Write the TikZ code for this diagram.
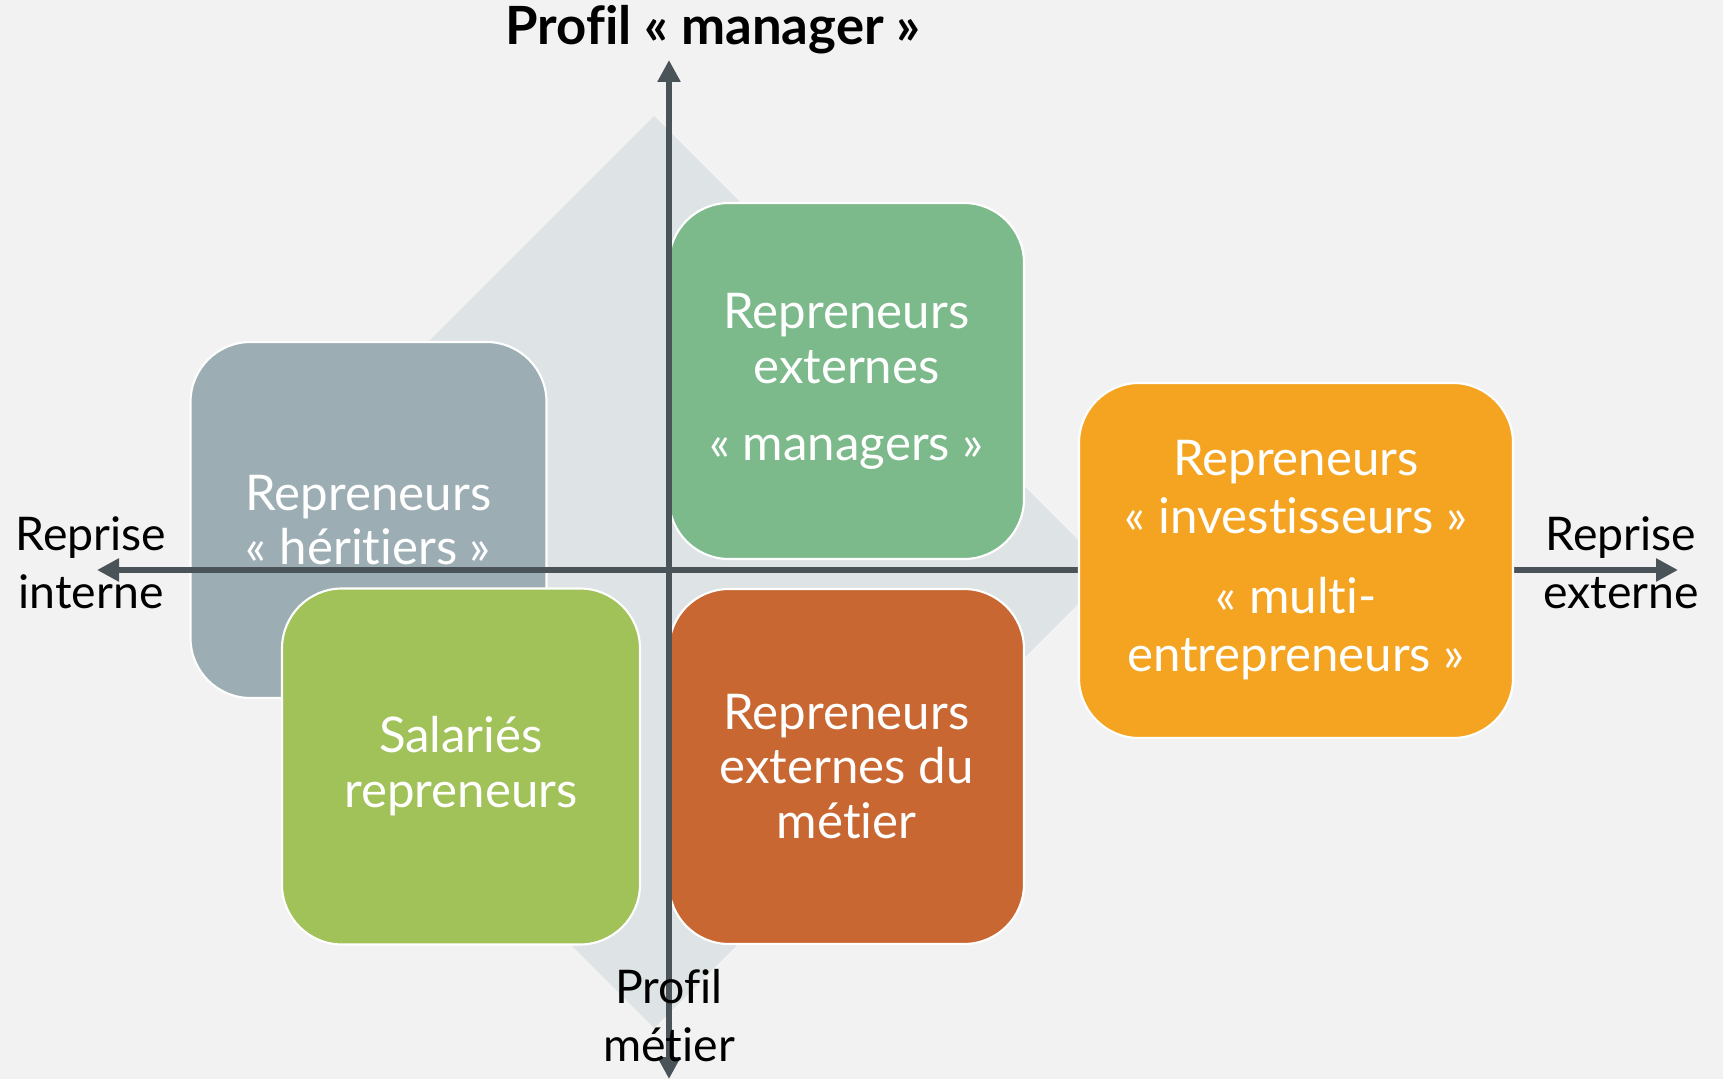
\documentclass[tikz,border=0pt]{standalone}
\usepackage{fontspec}
\setmainfont{Lato}[Ligatures=NoCommon]
\usetikzlibrary{arrows.meta}
\definecolor{bgcol}{HTML}{F2F2F2}
\definecolor{diamondcol}{HTML}{DEE3E5}
\definecolor{axiscol}{HTML}{4A5458}
\definecolor{heritcol}{HTML}{9CAEB3}
\definecolor{managcol}{HTML}{7CB98B}
\definecolor{salarcol}{HTML}{A1C159}
\definecolor{metiercol}{HTML}{C86731}
\definecolor{investcol}{HTML}{F5A422}
\begin{document}
\begin{tikzpicture}[box/.style = {draw=white, line width=0.6pt, rounded corners=6mm, minimum width=3.56cm, minimum height=3.56cm, align=center, text=white, font=\fontsize{14}{15.6}\selectfont, inner sep=0pt},
    lbl/.style = {align=center, font=\fontsize{13.2}{16.5}\selectfont},
    axis/.style = {draw=axiscol, line width=1.7pt, {Triangle[length=2.2mm,width=2.2mm]}-{Triangle[length=2.2mm,width=2.2mm]}}]
    \useasboundingbox (0,0) rectangle (17.23,10.79);
    \fill[bgcol] (0,0) rectangle (17.23,10.79);
    \fill[diamondcol] (6.54,9.63) -- (11.10,5.07) -- (6.54,0.51) -- (1.98,5.07) -- cycle;

    \node (herit) at (3.685,5.59) [box, fill=heritcol] {Repreneurs\\«~héritiers~»};
    \node (salar) at (4.61,3.125) [box, fill=salarcol, minimum width=3.58cm] {Salariés\\repreneurs};
    \node (manag) at (8.465,6.98) [box, fill=managcol, minimum width=3.55cm, text depth=0.08cm] {Repreneurs\\externes\\[2.2mm]«~managers~»};
    \node (metier) at (8.465,3.125) [box, fill=metiercol, minimum width=3.55cm, minimum height=3.55cm] {Repreneurs\\externes du\\métier};

    \coordinate (west) at (0.97,5.09);
    \coordinate (east) at (16.78,5.09);
    \coordinate (north) at (6.69,10.19);
    \coordinate (south) at (6.69,0);
    \draw[axis] (west) -- (east);
    \draw[axis] (south) -- (north);

    \node (invest) at (12.96,5.185) [box, fill=investcol, minimum width=4.34cm, minimum height=3.55cm, font=\fontsize{14}{16.5}\selectfont] {Repreneurs\\«~investisseurs~»\\[2.2mm]«~multi-\\entrepreneurs~»};

    \node (manager) at (7.13,10.49) [font=\fontsize{15}{18}\bfseries] {Profil «~manager~»};
    \node (interne) at (0.91,5.16) [lbl] {Reprise\\interne};
    \node (externe) at (16.21,5.16) [lbl] {Reprise\\externe};
    \node (profil) at (6.69,0.63) [lbl] {Profil\\métier};
\end{tikzpicture}
\end{document}
